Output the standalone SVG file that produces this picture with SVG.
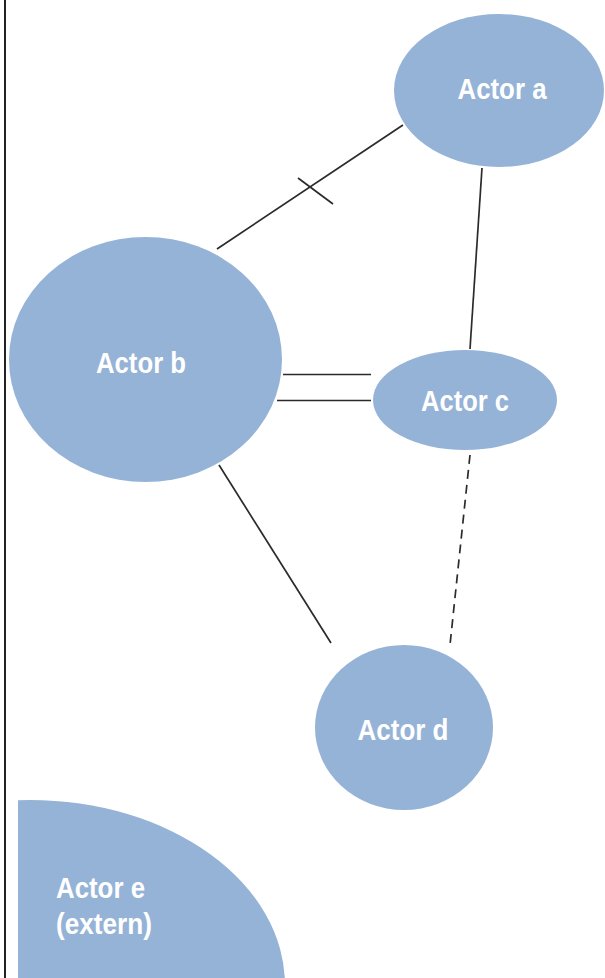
<svg xmlns="http://www.w3.org/2000/svg" width="605" height="978" viewBox="0 0 605 978">
  <style>
    .node { fill: #95B3D7; }
    .label { fill: #ffffff; font-family: "Liberation Sans", Arial, sans-serif; font-weight: bold; font-size: 29px; }
    .edge { stroke: #2b2b2b; stroke-width: 1.7; fill: none; }
    .dashed { stroke-dasharray: 9 6; }
  </style>
  <defs>
    <clipPath id="clipE">
      <rect x="18" y="790" width="300" height="188"/>
    </clipPath>
  </defs>
  <rect x="0" y="0" width="605" height="978" fill="#ffffff"/>
  <line x1="5" y1="0" x2="5" y2="978" stroke="#222" stroke-width="2"/>

  <g id="connectors">
    <line class="edge" x1="403" y1="125" x2="217" y2="249"/>
    <line class="edge" x1="298" y1="178" x2="333" y2="204"/>
    <line class="edge" x1="482" y1="168" x2="470" y2="349"/>
    <line class="edge" x1="283" y1="374.5" x2="371" y2="374.5"/>
    <line class="edge" x1="277" y1="400.5" x2="371" y2="400.5"/>
    <line class="edge dashed" x1="470" y1="455" x2="450" y2="645"/>
    <line class="edge" x1="219" y1="465" x2="331" y2="643"/>
  </g>

  <g id="actor-a">
    <ellipse class="node" cx="499" cy="90.5" rx="105" ry="76.5"/>
    <text class="label" x="502" y="99" text-anchor="middle" textLength="89" lengthAdjust="spacingAndGlyphs">Actor a</text>
  </g>
  <g id="actor-b">
    <ellipse class="node" cx="145.5" cy="359.5" rx="136.5" ry="122.5"/>
    <text class="label" x="141" y="373" text-anchor="middle" textLength="90" lengthAdjust="spacingAndGlyphs">Actor b</text>
  </g>
  <g id="actor-c">
    <ellipse class="node" cx="465" cy="400" rx="92" ry="50"/>
    <text class="label" x="465" y="411" text-anchor="middle" textLength="88" lengthAdjust="spacingAndGlyphs">Actor c</text>
  </g>
  <g id="actor-d">
    <ellipse class="node" cx="404" cy="727.5" rx="89" ry="82.5"/>
    <text class="label" x="403" y="740" text-anchor="middle" textLength="91" lengthAdjust="spacingAndGlyphs">Actor d</text>
  </g>
  <g id="actor-e">
    <ellipse class="node" cx="30" cy="985" rx="255" ry="185" clip-path="url(#clipE)"/>
    <text class="label" x="56" y="898" textLength="89" lengthAdjust="spacingAndGlyphs">Actor e</text>
    <text class="label" x="56" y="934" textLength="96" lengthAdjust="spacingAndGlyphs">(extern)</text>
  </g>
</svg>
